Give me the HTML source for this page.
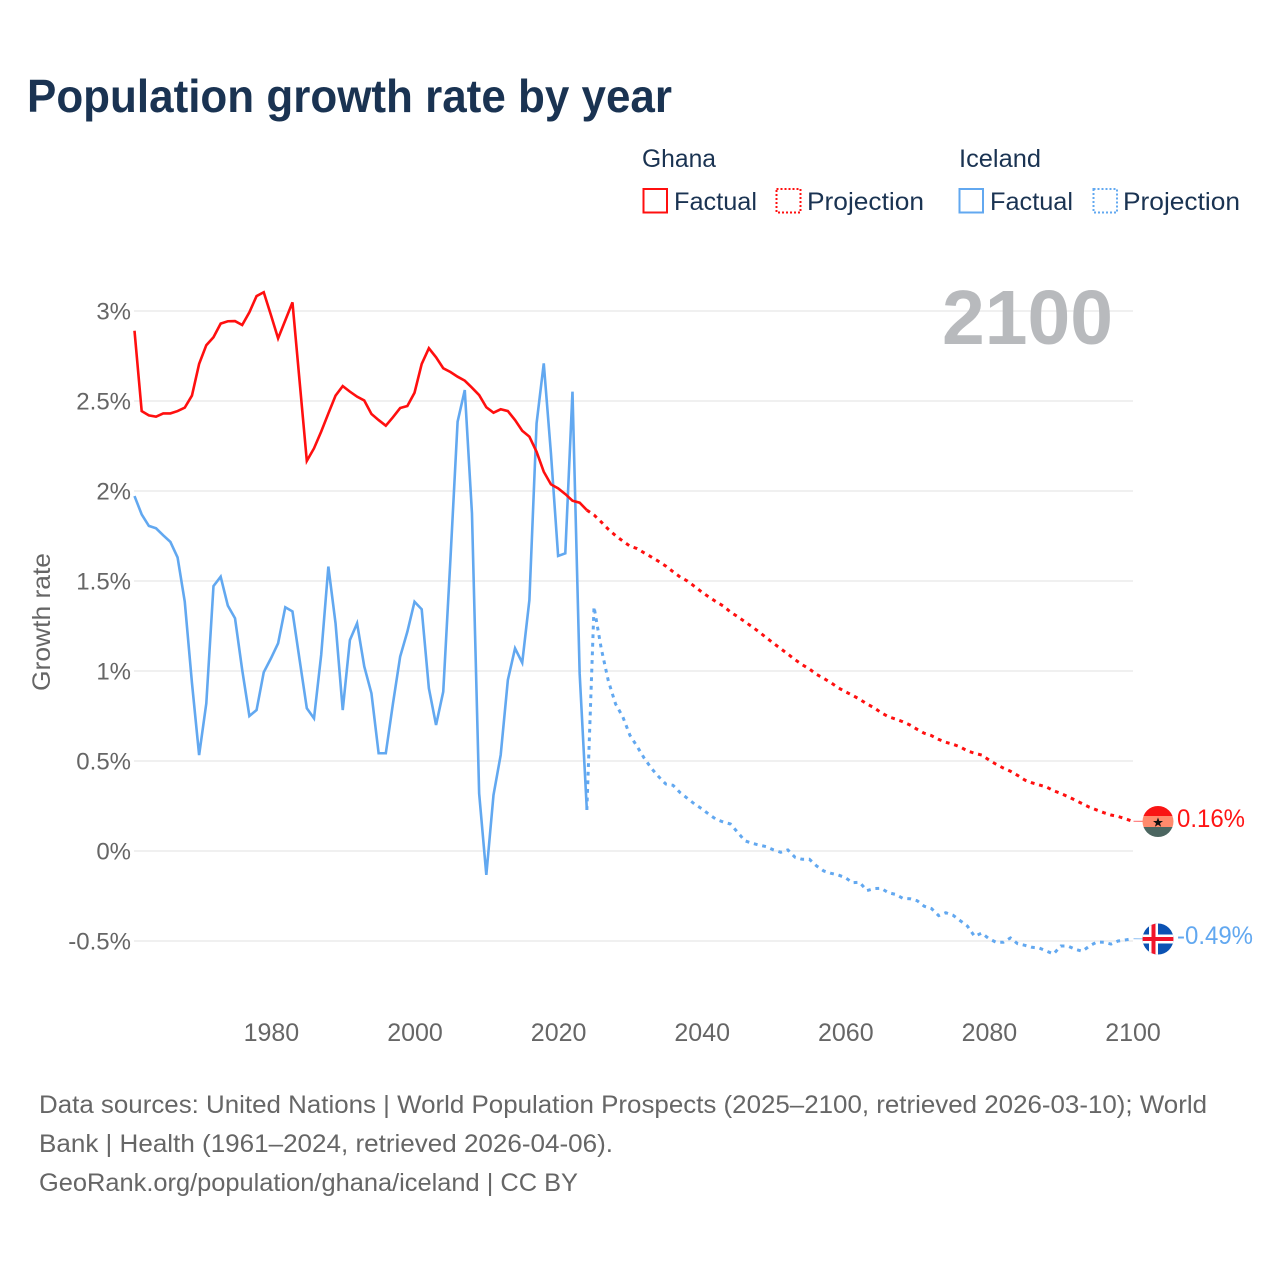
<!DOCTYPE html>
<html lang="en">
<head>
<meta charset="utf-8">
<title>Population growth rate by year</title>
<style>
html,body{margin:0;padding:0;background:#fff;}
svg{display:block;font-family:"Liberation Sans",Arial,sans-serif;}
</style>
</head>
<body>
<svg id="chart" width="1280" height="1280" viewBox="0 0 1280 1280" xmlns="http://www.w3.org/2000/svg">
  <rect width="1280" height="1280" fill="#ffffff"/>
  <text x="27" y="112" font-size="46" font-weight="700" fill="#1a3352" textLength="645" lengthAdjust="spacingAndGlyphs">Population growth rate by year</text>

  <g font-size="25" fill="#1a3352">
    <text x="642" y="167" textLength="74" lengthAdjust="spacingAndGlyphs">Ghana</text>
    <text x="959" y="167" textLength="82" lengthAdjust="spacingAndGlyphs">Iceland</text>
    <g>
      <rect x="643.5" y="189" width="23.5" height="23.5" fill="none" stroke="#ff0f0f" stroke-width="2"/>
      <text x="674" y="210" textLength="83" lengthAdjust="spacingAndGlyphs">Factual</text>
    </g>
    <g>
      <rect x="776.5" y="189" width="24" height="23.5" fill="none" stroke="#ff0f0f" stroke-width="2" stroke-dasharray="2 2"/>
      <text x="807" y="210" textLength="117" lengthAdjust="spacingAndGlyphs">Projection</text>
    </g>
    <g>
      <rect x="959.5" y="189" width="23.5" height="23.5" fill="none" stroke="#62a8f0" stroke-width="2"/>
      <text x="990" y="210" textLength="83" lengthAdjust="spacingAndGlyphs">Factual</text>
    </g>
    <g>
      <rect x="1093.5" y="189" width="23.5" height="23.5" fill="none" stroke="#62a8f0" stroke-width="2" stroke-dasharray="2 2"/>
      <text x="1123" y="210" textLength="117" lengthAdjust="spacingAndGlyphs">Projection</text>
    </g>
  </g>

  <g id="grid"></g>
  <g id="yticks"></g>
  <g id="xticks"></g>
  <text transform="translate(50,622) rotate(-90)" text-anchor="middle" font-size="25" fill="#666666" textLength="138" lengthAdjust="spacingAndGlyphs">Growth rate</text>
  <text x="942" y="344" font-size="77" font-weight="700" fill="#b8babd" textLength="171" lengthAdjust="spacingAndGlyphs">2100</text>

  <g id="series"></g>

  <g>
    <clipPath id="ghana-clip"><circle cx="1158" cy="821.5" r="15.5"/></clipPath>
    <g clip-path="url(#ghana-clip)">
      <rect x="1142" y="806" width="32" height="10" fill="#f91414"/>
      <rect x="1142" y="816" width="32" height="11" fill="#ff8a6c"/>
      <rect x="1142" y="827" width="32" height="11" fill="#4b6660"/>
    </g>
    <polygon points="1158,817.5 1159.3,821 1163,821 1160,823.2 1161.1,826.8 1158,824.6 1154.9,826.8 1156,823.2 1153,821 1156.7,821" fill="#111111"/>
  </g>
  <g>
    <clipPath id="iceland-clip"><circle cx="1158" cy="939" r="15.5"/></clipPath>
    <g clip-path="url(#iceland-clip)">
      <rect x="1142" y="923" width="32" height="32" fill="#0b52b3"/>
      <rect x="1149" y="923" width="9" height="32" fill="#ffffff"/>
      <rect x="1142" y="934.5" width="32" height="9" fill="#ffffff"/>
      <rect x="1151.5" y="923" width="4" height="32" fill="#f0142a"/>
      <rect x="1142" y="937" width="32" height="4" fill="#f0142a"/>
    </g>
  </g>
  <text id="ghana-end-label" x="1177" y="827" font-size="25" fill="#ff1414" textLength="68" lengthAdjust="spacingAndGlyphs">0.16%</text>
  <text id="iceland-end-label" x="1177" y="944" font-size="25" fill="#62a8f0" textLength="76" lengthAdjust="spacingAndGlyphs">-0.49%</text>

  <g font-size="25" fill="#666666">
    <text x="39" y="1113" textLength="1168" lengthAdjust="spacingAndGlyphs">Data sources: United Nations | World Population Prospects (2025–2100, retrieved 2026-03-10); World</text>
    <text x="39" y="1152" textLength="574" lengthAdjust="spacingAndGlyphs">Bank | Health (1961–2024, retrieved 2026-04-06).</text>
    <text x="39" y="1191" textLength="539" lengthAdjust="spacingAndGlyphs">GeoRank.org/population/ghana/iceland | CC BY</text>
  </g>
</svg>

<script>
const xTickYears = [1980, 2000, 2020, 2040, 2060, 2080, 2100];
const yTickValues = [3, 2.5, 2, 1.5, 1, 0.5, 0, -0.5];
const yTickLabels = ['3%', '2.5%', '2%', '1.5%', '1%', '0.5%', '0%', '-0.5%'];

const factualFirstYear = 1961;
const projectionFirstYear = 2024;

const ghanaFactual = [2.89,2.444,2.42,2.413,2.431,2.431,2.444,2.463,2.53,2.706,2.81,2.854,2.93,2.943,2.944,2.922,2.993,3.083,3.104,2.978,2.848,2.948,3.048,2.607,2.167,2.237,2.33,2.431,2.53,2.583,2.552,2.524,2.503,2.428,2.394,2.363,2.41,2.461,2.472,2.546,2.706,2.793,2.743,2.682,2.661,2.635,2.613,2.574,2.533,2.465,2.435,2.454,2.444,2.394,2.335,2.302,2.218,2.107,2.037,2.015,1.983,1.946,1.935,1.894];

const ghanaProjection = [1.894,1.867,1.828,1.787,1.752,1.722,1.694,1.68,1.656,1.633,1.609,1.583,1.552,1.522,1.5,1.47,1.439,1.411,1.385,1.361,1.328,1.302,1.274,1.246,1.217,1.185,1.154,1.124,1.094,1.063,1.035,1.011,0.981,0.959,0.935,0.907,0.885,0.865,0.843,0.817,0.796,0.768,0.746,0.733,0.718,0.7,0.676,0.654,0.641,0.62,0.604,0.593,0.578,0.556,0.543,0.533,0.506,0.482,0.461,0.443,0.42,0.394,0.379,0.367,0.356,0.335,0.32,0.302,0.283,0.263,0.243,0.228,0.213,0.2,0.192,0.179,0.165];

const icelandFactual = [1.972,1.87,1.806,1.793,1.754,1.717,1.631,1.385,0.935,0.533,0.82,1.472,1.524,1.363,1.293,1.006,0.75,0.783,0.993,1.07,1.154,1.354,1.331,1.061,0.793,0.737,1.089,1.58,1.265,0.783,1.172,1.265,1.025,0.876,0.543,0.543,0.82,1.08,1.218,1.385,1.343,0.904,0.7,0.885,1.62,2.385,2.561,1.876,0.32,-0.133,0.311,0.533,0.95,1.126,1.046,1.394,2.376,2.709,2.209,1.639,1.654,2.552,0.985,0.228];

const icelandProjection = [0.228,1.357,1.126,0.944,0.817,0.746,0.643,0.581,0.515,0.459,0.413,0.372,0.365,0.324,0.293,0.261,0.235,0.204,0.176,0.161,0.15,0.104,0.057,0.043,0.033,0.024,0.006,-0.007,0.006,-0.035,-0.046,-0.046,-0.083,-0.111,-0.124,-0.133,-0.148,-0.176,-0.174,-0.22,-0.209,-0.207,-0.232,-0.241,-0.263,-0.265,-0.276,-0.307,-0.32,-0.359,-0.343,-0.357,-0.387,-0.417,-0.474,-0.456,-0.487,-0.507,-0.507,-0.483,-0.515,-0.524,-0.535,-0.539,-0.556,-0.572,-0.528,-0.528,-0.546,-0.557,-0.528,-0.506,-0.507,-0.517,-0.5,-0.494,-0.487];

const SVG_NS = 'http://www.w3.org/2000/svg';
const RED = '#ff0f0f';
const BLUE = '#62a8f0';
const GRID_LEFT = 134;
const GRID_RIGHT = 1133;
const FLAG_X = 1158;

function xScale(year) {
  return 134.5 + (year - 1961) * 7.18;
}
function yScale(value) {
  return 851 - value * 180;
}
function make(tag, attrs) {
  const el = document.createElementNS(SVG_NS, tag);
  Object.keys(attrs).forEach(function (k) { el.setAttribute(k, attrs[k]); });
  return el;
}
function linePath(firstYear, values) {
  return values.map(function (v, i) {
    return (i ? 'L' : 'M') + xScale(firstYear + i).toFixed(2) + ' ' + yScale(v).toFixed(2);
  }).join(' ');
}

const gridGroup = document.getElementById('grid');
const yTickGroup = document.getElementById('yticks');
const xTickGroup = document.getElementById('xticks');
const seriesGroup = document.getElementById('series');

yTickValues.forEach(function (v, i) {
  const grid = make('line', { x1: GRID_LEFT, x2: GRID_RIGHT, y1: yScale(v), y2: yScale(v), stroke: '#ebebeb', 'stroke-width': 1.4 });
  
  
  gridGroup.appendChild(grid);

  const label = make('text', { x: 131, y: yScale(v) + 8.5, 'text-anchor': 'end', 'font-size': 24, fill: '#666666' });
  
  
  label.textContent = yTickLabels[i];
  yTickGroup.appendChild(label);
});

xTickYears.forEach(function (year) {
  const label = make('text', { x: xScale(year) + 0.5, y: 1041, 'text-anchor': 'middle', 'font-size': 25, fill: '#666666' });
  
  
  label.textContent = String(year);
  xTickGroup.appendChild(label);
});

const icelandFactualLine = make('path', { d: linePath(factualFirstYear, icelandFactual), fill: 'none', stroke: BLUE, 'stroke-width': 2.6, 'stroke-linejoin': 'miter' });


seriesGroup.appendChild(icelandFactualLine);

const icelandProjectionLine = make('path', { d: linePath(projectionFirstYear, icelandProjection), fill: 'none', stroke: BLUE, 'stroke-width': 3, 'stroke-dasharray': '3.8 4.8' });


seriesGroup.appendChild(icelandProjectionLine);

const ghanaFactualLine = make('path', { d: linePath(factualFirstYear, ghanaFactual), fill: 'none', stroke: RED, 'stroke-width': 2.6, 'stroke-linejoin': 'miter' });


seriesGroup.appendChild(ghanaFactualLine);

const ghanaProjectionLine = make('path', { d: linePath(projectionFirstYear, ghanaProjection), fill: 'none', stroke: RED, 'stroke-width': 3, 'stroke-dasharray': '3.8 4.8' });


seriesGroup.appendChild(ghanaProjectionLine);

const ghanaLast = ghanaProjection[ghanaProjection.length - 1];
const ghanaLeader = make('line', { x1: xScale(2100) + 1, y1: yScale(ghanaLast), x2: FLAG_X, y2: 821.5, stroke: '#ff7a7a', 'stroke-width': 1.2 });


seriesGroup.appendChild(ghanaLeader);

const icelandLast = icelandProjection[icelandProjection.length - 1];
const icelandLeader = make('line', { x1: xScale(2100) + 1, y1: yScale(icelandLast), x2: FLAG_X, y2: 939, stroke: '#a3cbf5', 'stroke-width': 1.2 });


seriesGroup.appendChild(icelandLeader);
</script>
</body>
</html>
